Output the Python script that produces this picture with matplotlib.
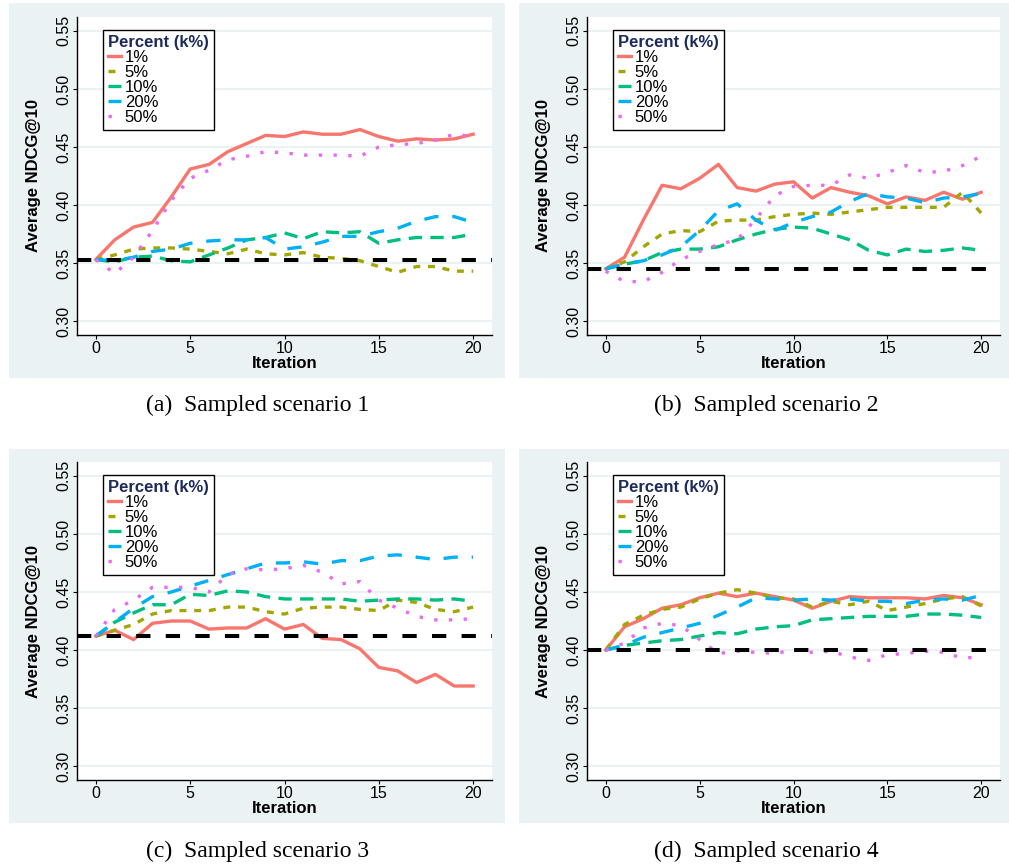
import numpy as np
import matplotlib
matplotlib.use('Agg')
import matplotlib.pyplot as plt
from matplotlib.patches import Rectangle

plt.rcParams['font.family'] = ['Liberation Sans', 'DejaVu Sans']
plt.rcParams['lines.scale_dashes'] = False

iters = np.arange(0, 21)
labels = ['1%', '5%', '10%', '20%', '50%']
colors = ['#F8766D', '#A3A500', '#00BF7D', '#00B0F6', '#E76BF3']
# dash patterns in points (on, off); None = solid
dash_styles = [None, (5.0, 5.6), (9.6, 6.0), (10.3, 10.0), (2.4, 8.2)]

# scenario 1
base1 = 0.353
s1_p1 = [0.353, 0.370, 0.381, 0.385, 0.407, 0.431, 0.435, 0.446, 0.453, 0.460, 0.459,
         0.463, 0.461, 0.461, 0.465, 0.459, 0.455, 0.457, 0.456, 0.457, 0.461]
s1_p5 = [0.353, 0.357, 0.362, 0.363, 0.363, 0.362, 0.360, 0.358, 0.362, 0.358, 0.357,
         0.359, 0.355, 0.354, 0.352, 0.347, 0.342, 0.347, 0.347, 0.343, 0.343]
s1_p10 = [0.353, 0.351, 0.355, 0.356, 0.352, 0.351, 0.357, 0.363, 0.370, 0.372, 0.376,
          0.371, 0.377, 0.376, 0.377, 0.367, 0.370, 0.372, 0.372, 0.372, 0.375]
s1_p20 = [0.353, 0.352, 0.355, 0.360, 0.362, 0.367, 0.369, 0.370, 0.370, 0.372, 0.362,
          0.364, 0.368, 0.373, 0.373, 0.377, 0.380, 0.386, 0.390, 0.390, 0.385]
s1_p50 = [0.353, 0.341, 0.355, 0.378, 0.404, 0.423, 0.430, 0.439, 0.442, 0.446, 0.445,
          0.443, 0.443, 0.443, 0.442, 0.450, 0.452, 0.453, 0.456, 0.461, 0.459]

# scenario 2
base2 = 0.345
s2_p1 = [0.345, 0.355, 0.387, 0.417, 0.414, 0.423, 0.435, 0.415, 0.412, 0.418, 0.420,
         0.406, 0.415, 0.411, 0.408, 0.401, 0.407, 0.404, 0.411, 0.405, 0.411]
s2_p5 = [0.345, 0.351, 0.364, 0.375, 0.378, 0.377, 0.386, 0.387, 0.387, 0.390, 0.392,
         0.393, 0.392, 0.394, 0.396, 0.398, 0.398, 0.398, 0.398, 0.411, 0.393]
s2_p10 = [0.345, 0.349, 0.352, 0.359, 0.362, 0.362, 0.364, 0.370, 0.375, 0.379, 0.381,
          0.380, 0.375, 0.370, 0.361, 0.357, 0.362, 0.360, 0.361, 0.363, 0.361]
s2_p20 = [0.345, 0.349, 0.352, 0.357, 0.364, 0.378, 0.395, 0.401, 0.387, 0.378, 0.385,
          0.390, 0.394, 0.403, 0.410, 0.407, 0.406, 0.402, 0.406, 0.407, 0.410]
s2_p50 = [0.343, 0.334, 0.334, 0.342, 0.353, 0.360, 0.366, 0.370, 0.388, 0.408, 0.416,
          0.417, 0.417, 0.426, 0.423, 0.428, 0.434, 0.428, 0.429, 0.434, 0.442]

# scenario 3
base3 = 0.412
s3_p1 = [0.412, 0.417, 0.409, 0.423, 0.425, 0.425, 0.418, 0.419, 0.419, 0.427, 0.418,
         0.422, 0.410, 0.409, 0.401, 0.385, 0.382, 0.372, 0.379, 0.369, 0.369]
s3_p5 = [0.412, 0.417, 0.422, 0.431, 0.434, 0.434, 0.434, 0.437, 0.437, 0.433, 0.431,
         0.436, 0.437, 0.437, 0.435, 0.434, 0.443, 0.441, 0.435, 0.433, 0.437]
s3_p10 = [0.412, 0.424, 0.432, 0.439, 0.439, 0.448, 0.447, 0.451, 0.450, 0.446, 0.444,
          0.444, 0.444, 0.444, 0.442, 0.443, 0.444, 0.444, 0.443, 0.444, 0.442]
s3_p20 = [0.412, 0.424, 0.436, 0.446, 0.450, 0.455, 0.460, 0.465, 0.470, 0.475, 0.475,
          0.476, 0.474, 0.477, 0.477, 0.481, 0.482, 0.480, 0.478, 0.480, 0.480]
s3_p50 = [0.412, 0.435, 0.443, 0.454, 0.454, 0.454, 0.450, 0.465, 0.470, 0.469, 0.470,
          0.473, 0.467, 0.457, 0.459, 0.443, 0.436, 0.429, 0.426, 0.426, 0.427]

# scenario 4
base4 = 0.400
s4_p1 = [0.400, 0.420, 0.427, 0.436, 0.439, 0.445, 0.449, 0.446, 0.449, 0.446, 0.443,
         0.436, 0.442, 0.446, 0.445, 0.445, 0.445, 0.444, 0.447, 0.445, 0.439]
s4_p5 = [0.400, 0.422, 0.430, 0.435, 0.437, 0.444, 0.449, 0.452, 0.449, 0.445, 0.444,
         0.437, 0.442, 0.439, 0.442, 0.434, 0.437, 0.440, 0.444, 0.446, 0.438]
s4_p10 = [0.400, 0.404, 0.406, 0.408, 0.409, 0.412, 0.415, 0.414, 0.418, 0.420, 0.421,
          0.426, 0.427, 0.428, 0.429, 0.429, 0.429, 0.431, 0.431, 0.430, 0.428]
s4_p20 = [0.400, 0.404, 0.411, 0.415, 0.419, 0.423, 0.430, 0.437, 0.445, 0.444, 0.443,
          0.444, 0.443, 0.444, 0.442, 0.442, 0.440, 0.443, 0.444, 0.443, 0.447]
s4_p50 = [0.400, 0.406, 0.419, 0.423, 0.421, 0.409, 0.397, 0.399, 0.398, 0.397, 0.400,
          0.398, 0.399, 0.394, 0.391, 0.396, 0.397, 0.399, 0.398, 0.393, 0.394]

scenarios = [
    (base1, [s1_p1, s1_p5, s1_p10, s1_p20, s1_p50], '(a)  Sampled scenario 1'),
    (base2, [s2_p1, s2_p5, s2_p10, s2_p20, s2_p50], '(b)  Sampled scenario 2'),
    (base3, [s3_p1, s3_p5, s3_p10, s3_p20, s3_p50], '(c)  Sampled scenario 3'),
    (base4, [s4_p1, s4_p5, s4_p10, s4_p20, s4_p50], '(d)  Sampled scenario 4'),
]

W, H = 1009, 866
bg = '#EAF2F3'
fig = plt.figure(figsize=(W / 100, H / 100), dpi=100)

# pixel boxes: (axes left, axes top, axes right, axes bottom), (panel box), caption centre
ax_px = [(77, 17, 492, 335), (587, 17, 1000, 335), (77, 462, 492, 780), (587, 462, 1000, 780)]
panel_px = [(9, 3, 505, 378), (519, 3, 1009, 378), (9, 449, 505, 823), (519, 449, 1009, 823)]
cap_px = [(258, 405), (766, 405), (258, 851), (766, 851)]

for k, (base, series, cap) in enumerate(scenarios):
    x0, y0, x1, y1 = panel_px[k]
    fig.patches.append(Rectangle((x0 / W, 1 - y1 / H), (x1 - x0) / W, (y1 - y0) / H,
                                 transform=fig.transFigure, facecolor=bg,
                                 edgecolor='none', zorder=-5))
    l, t, r, b = ax_px[k]
    ax = fig.add_axes([l / W, 1 - b / H, (r - l) / W, (b - t) / H])
    ax.set_facecolor('white')

    for vals, lab, col, ds in zip(series, labels, colors, dash_styles):
        line, = ax.plot(iters, vals, color=col, lw=2.4, label=lab, zorder=3)
        if ds is not None:
            line.set_dashes(ds)
    ax.axhline(base, color='black', lw=2.9, dashes=(10.3, 11.0), zorder=4)

    ax.set_xlim(-1, 21)
    ax.set_ylim(0.288, 0.562)
    ax.set_xticks([0, 5, 10, 15, 20])
    ax.set_yticks([0.30, 0.35, 0.40, 0.45, 0.50, 0.55])
    ax.set_yticklabels(['%.2f' % v for v in ax.get_yticks()], rotation=90, va='center')
    ax.yaxis.grid(True, color=bg, lw=1.5, zorder=0)
    ax.set_axisbelow(True)
    for s in ['top', 'right']:
        ax.spines[s].set_visible(False)
    for s in ['left', 'bottom']:
        ax.spines[s].set_linewidth(1.0)
    ax.tick_params(axis='both', labelsize=11.5, length=3, width=0.8, pad=1)

    ax.set_xlabel('Iteration', fontsize=12, fontweight='bold', labelpad=0)
    ax.set_ylabel('Average NDCG@10', fontsize=12, fontweight='bold', labelpad=11)

    leg = ax.legend(loc='upper left', bbox_to_anchor=(0.063, 0.959), borderaxespad=0,
                    title='Percent (k%)', fontsize=12, handlelength=0.75,
                    handletextpad=0.25, labelspacing=0.0, borderpad=0.3,
                    fancybox=False, framealpha=1, edgecolor='black',
                    alignment='left')
    leg.get_frame().set_linewidth(1.0)
    leg.get_title().set_fontweight('bold')
    leg.get_title().set_fontsize(12)
    leg.get_title().set_color('#1c2a5c')

    fig.text(cap_px[k][0] / W, 1 - cap_px[k][1] / H, cap, ha='center', va='center',
             fontsize=17, family='Liberation Serif')

fig.savefig('out.png', dpi=100)
